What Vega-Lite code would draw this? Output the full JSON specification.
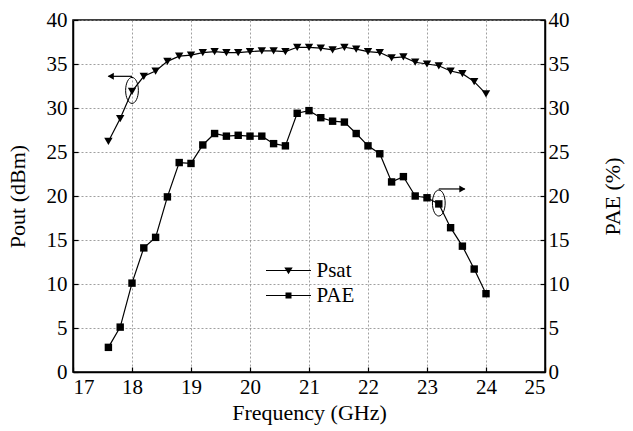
{
  "$schema": "https://vega.github.io/schema/vega-lite/v6.json",
  "width": 472,
  "height": 352,
  "autosize": {"type": "none"},
  "padding": {"left": 73, "top": 20, "right": 88, "bottom": 59},
  "background": "white",
  "config": {
    "font": "Liberation Serif",
    "view": {"stroke": "black", "strokeWidth": 1.5},
    "axis": {
      "labelFont": "Liberation Serif", "titleFont": "Liberation Serif",
      "labelFontSize": 21, "titleFontSize": 22, "titleFontWeight": "normal",
      "labelColor": "black", "titleColor": "black",
      "domainColor": "black", "domainWidth": 1.5,
      "tickColor": "black", "tickSize": -5, "tickWidth": 1.2,
      "gridColor": "#888", "gridDash": [2, 2], "gridWidth": 0.8
    }
  },
  "datasets": {
    "psat": [
      {"f": 17.6, "v": 26.2, "series": "Psat"}, {"f": 17.8, "v": 28.8, "series": "Psat"},
      {"f": 18.0, "v": 31.9, "series": "Psat"}, {"f": 18.2, "v": 33.6, "series": "Psat"},
      {"f": 18.4, "v": 34.2, "series": "Psat"}, {"f": 18.6, "v": 35.3, "series": "Psat"},
      {"f": 18.8, "v": 35.9, "series": "Psat"}, {"f": 19.0, "v": 36.0, "series": "Psat"},
      {"f": 19.2, "v": 36.3, "series": "Psat"}, {"f": 19.4, "v": 36.4, "series": "Psat"},
      {"f": 19.6, "v": 36.3, "series": "Psat"}, {"f": 19.8, "v": 36.3, "series": "Psat"},
      {"f": 20.0, "v": 36.4, "series": "Psat"}, {"f": 20.2, "v": 36.5, "series": "Psat"},
      {"f": 20.4, "v": 36.5, "series": "Psat"}, {"f": 20.6, "v": 36.4, "series": "Psat"},
      {"f": 20.8, "v": 36.9, "series": "Psat"}, {"f": 21.0, "v": 36.9, "series": "Psat"},
      {"f": 21.2, "v": 36.8, "series": "Psat"}, {"f": 21.4, "v": 36.6, "series": "Psat"},
      {"f": 21.6, "v": 36.9, "series": "Psat"}, {"f": 21.8, "v": 36.7, "series": "Psat"},
      {"f": 22.0, "v": 36.4, "series": "Psat"}, {"f": 22.2, "v": 36.3, "series": "Psat"},
      {"f": 22.4, "v": 35.7, "series": "Psat"}, {"f": 22.6, "v": 35.8, "series": "Psat"},
      {"f": 22.8, "v": 35.2, "series": "Psat"}, {"f": 23.0, "v": 35.0, "series": "Psat"},
      {"f": 23.2, "v": 34.8, "series": "Psat"}, {"f": 23.4, "v": 34.2, "series": "Psat"},
      {"f": 23.6, "v": 33.9, "series": "Psat"}, {"f": 23.8, "v": 33.0, "series": "Psat"},
      {"f": 24.0, "v": 31.6, "series": "Psat"}
    ],
    "pae": [
      {"f": 17.6, "v": 2.8, "series": "PAE"}, {"f": 17.8, "v": 5.1, "series": "PAE"},
      {"f": 18.0, "v": 10.1, "series": "PAE"}, {"f": 18.2, "v": 14.1, "series": "PAE"},
      {"f": 18.4, "v": 15.3, "series": "PAE"}, {"f": 18.6, "v": 19.9, "series": "PAE"},
      {"f": 18.8, "v": 23.8, "series": "PAE"}, {"f": 19.0, "v": 23.7, "series": "PAE"},
      {"f": 19.2, "v": 25.8, "series": "PAE"}, {"f": 19.4, "v": 27.1, "series": "PAE"},
      {"f": 19.6, "v": 26.8, "series": "PAE"}, {"f": 19.8, "v": 26.9, "series": "PAE"},
      {"f": 20.0, "v": 26.8, "series": "PAE"}, {"f": 20.2, "v": 26.8, "series": "PAE"},
      {"f": 20.4, "v": 25.95, "series": "PAE"}, {"f": 20.6, "v": 25.7, "series": "PAE"},
      {"f": 20.8, "v": 29.4, "series": "PAE"}, {"f": 21.0, "v": 29.7, "series": "PAE"},
      {"f": 21.2, "v": 28.9, "series": "PAE"}, {"f": 21.4, "v": 28.5, "series": "PAE"},
      {"f": 21.6, "v": 28.4, "series": "PAE"}, {"f": 21.8, "v": 27.1, "series": "PAE"},
      {"f": 22.0, "v": 25.7, "series": "PAE"}, {"f": 22.2, "v": 24.8, "series": "PAE"},
      {"f": 22.4, "v": 21.6, "series": "PAE"}, {"f": 22.6, "v": 22.2, "series": "PAE"},
      {"f": 22.8, "v": 20.0, "series": "PAE"}, {"f": 23.0, "v": 19.8, "series": "PAE"},
      {"f": 23.2, "v": 19.1, "series": "PAE"}, {"f": 23.4, "v": 16.4, "series": "PAE"},
      {"f": 23.6, "v": 14.3, "series": "PAE"}, {"f": 23.8, "v": 11.7, "series": "PAE"},
      {"f": 24.0, "v": 8.9, "series": "PAE"}
    ],
    "ellipses": [
      {"f": 18.0, "v": 32.0},
      {"f": 23.2, "v": 19.2}
    ],
    "arrows": [
      {"id": "a1", "f": 18.0, "v": 33.6},
      {"id": "a1", "f": 17.6, "v": 33.6},
      {"id": "a2", "f": 23.2, "v": 20.8},
      {"id": "a2", "f": 23.64, "v": 20.8}
    ],
    "heads": [
      {"dir": "left", "f": 17.64, "v": 33.6},
      {"dir": "right", "f": 23.6, "v": 20.8}
    ]
  },
  "resolve": {"scale": {"y": "independent"}},
  "layer": [
    {
      "encoding": {
        "x": {"field": "f", "type": "quantitative", "scale": {"domain": [17, 25]},
              "axis": {"values": [17, 18, 19, 20, 21, 22, 23, 24, 25], "format": "d", "grid": true, "title": "Frequency (GHz)", "labelPadding": 9, "titlePadding": 5}},
        "y": {"field": "v", "type": "quantitative", "scale": {"domain": [0, 40]},
              "axis": {"orient": "left", "values": [0, 5, 10, 15, 20, 25, 30, 35, 40], "grid": true, "title": "Pout (dBm)", "labelPadding": 11, "titlePadding": 17}}
      },
      "layer": [
        {"data": {"name": "psat"}, "mark": {"type": "line", "color": "black", "strokeWidth": 1.2}},
        {"data": {"name": "psat"}, "mark": {"type": "point", "shape": "triangle-down", "filled": true, "color": "black", "opacity": 1, "size": 70}},
        {"data": {"name": "psat"}, "mark": {"type": "point", "filled": true, "color": "black", "opacity": 0, "size": 400},
         "encoding": {"shape": {"field": "series", "type": "nominal",
           "scale": {"domain": ["Psat", "PAE"], "range": [
             "M-2.25,-0.06L2.25,-0.06L2.25,0.06L-2.25,0.06ZM-0.42,-0.3L0.42,-0.3L0,0.38Z",
             "M-2.25,-0.06L2.25,-0.06L2.25,0.06L-2.25,0.06ZM-0.3,-0.3L0.3,-0.3L0.3,0.3L-0.3,0.3Z"]},
           "legend": {
             "orient": "none", "legendX": 205, "legendY": 240, "title": null,
             "labelFont": "Liberation Serif", "labelFontSize": 21, "labelColor": "black",
             "symbolSize": 400, "labelOffset": 17.5, "rowPadding": 3, "padding": 0,
             "symbolStrokeWidth": 0, "symbolFillColor": "black", "symbolOpacity": 1,
             "encode": {"symbols": {"update": {"opacity": {"value": 1}, "fill": {"value": "black"}}}}
           }}}},
        {"data": {"name": "ellipses"}, "mark": {"type": "point", "filled": false, "stroke": "black", "strokeWidth": 1, "opacity": 1, "size": 676,
          "shape": "M0,-1A0.49,1,0,1,1,0,1A0.49,1,0,1,1,0,-1Z"}},
        {"data": {"name": "arrows"}, "mark": {"type": "line", "color": "black", "strokeWidth": 1.2},
         "encoding": {"detail": {"field": "id", "type": "nominal"}}},
        {"data": {"name": "heads"}, "transform": [{"filter": "datum.dir === 'left'"}],
         "mark": {"type": "point", "shape": "triangle-left", "filled": true, "color": "black", "opacity": 1, "size": 50}},
        {"data": {"name": "heads"}, "transform": [{"filter": "datum.dir === 'right'"}],
         "mark": {"type": "point", "shape": "triangle-right", "filled": true, "color": "black", "opacity": 1, "size": 50}}
      ]
    },
    {
      "data": {"name": "pae"},
      "encoding": {
        "x": {"field": "f", "type": "quantitative", "scale": {"domain": [17, 25]}},
        "y": {"field": "v", "type": "quantitative", "scale": {"domain": [0, 40]},
              "axis": {"orient": "right", "values": [0, 5, 10, 15, 20, 25, 30, 35, 40], "grid": false, "title": "PAE (%)", "titleAngle": -90, "labelPadding": 8, "titlePadding": 55}}
      },
      "layer": [
        {"mark": {"type": "line", "color": "black", "strokeWidth": 1.2}},
        {"mark": {"type": "point", "shape": "square", "filled": true, "color": "black", "opacity": 1, "size": 55}}
      ]
    }
  ]
}
